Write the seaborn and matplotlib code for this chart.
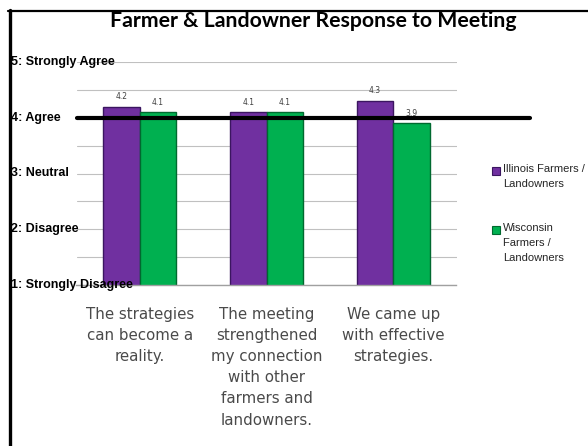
import matplotlib
matplotlib.use("Agg")
import matplotlib.pyplot as plt
import matplotlib.transforms as mtransforms
from matplotlib.lines import Line2D
from matplotlib.patches import Rectangle
import seaborn as sns
import pandas as pd

# ---- data ----
categories = [
    "The strategies\ncan become a\nreality.",
    "The meeting\nstrengthened\nmy connection\nwith other\nfarmers and\nlandowners.",
    "We came up\nwith effective\nstrategies.",
]
series_names = ["Illinois Farmers /\nLandowners", "Wisconsin\nFarmers /\nLandowners"]
illinois = [4.2, 4.1, 4.3]
wisconsin = [4.1, 4.1, 3.9]
ytick_values = [1, 2, 3, 4, 5]
ytick_labels = ["1: Strongly Disagree", "2: Disagree", "3: Neutral", "4: Agree", "5: Strongly Agree"]
agree_line = 4
title = "Farmer & Landowner Response to Meeting"

colors = ["#7030A0", "#00B050"]
edges = ["#3B1660", "#00692F"]

df = pd.DataFrame({
    "cat": categories * 2,
    "series": [series_names[0]] * 3 + [series_names[1]] * 3,
    "val": illinois + wisconsin,
})

sns.set_style("white")
fig = plt.figure(figsize=(5.88, 4.46), dpi=100)
W, H = 588, 446
ax = fig.add_axes([76.5 / W, 1 - 285 / H, 380 / W, 223 / H])

sns.barplot(data=df, x="cat", y="val", hue="series", order=categories,
            hue_order=series_names, palette=colors, width=0.577,
            saturation=1, linewidth=1, ax=ax, legend=False)

for cont, ec in zip(ax.containers, edges):
    for p in cont:
        p.set_edgecolor(ec)
    ax.bar_label(cont, fmt="%.1f", padding=4, fontsize=5.5, color="#404040")

ax.set_ylim(1, 5)
ax.set_xlim(-0.5, 2.5)
ax.set_yticks([1 + 0.5 * i for i in range(9)])
ax.set_yticklabels([])
ax.tick_params(axis="y", length=0)
ax.yaxis.grid(True, color="#C0C0C0", lw=0.8)
ax.set_axisbelow(True)
for s in ["left", "right", "top"]:
    ax.spines[s].set_visible(False)
ax.spines["bottom"].set_color("#A0A0A0")
ax.spines["bottom"].set_linewidth(1)

ax.set_xticks(range(3))
ax.set_xticklabels(categories, fontsize=10.8, color="#4A4A4A", linespacing=1.52,
                   family="DejaVu Sans", va="top")
ax.tick_params(axis="x", length=0, pad=15.5)
ax.set_xticks([-0.5, 0.5, 1.5, 2.5], minor=True)
ax.tick_params(axis="x", which="minor", length=5, color="#A0A0A0", width=1, direction="out")
ax.set_xlabel("")
ax.set_ylabel("")

# y category labels
tr = mtransforms.blended_transform_factory(fig.transFigure, ax.transData)
for v, lab in zip(ytick_values, ytick_labels):
    ax.text(11 / W, v, lab, transform=tr, ha="left", va="center", fontsize=9,
            fontweight="bold", family="Liberation Sans", color="black", clip_on=False)

# agree line
ax.axhline(agree_line, xmin=0, xmax=(530 - 76.5) / 380, color="black", lw=3,
           clip_on=False, zorder=5)

# legend (manual)
legend_tops = [171, 230]
for name, c, e, yc in zip(series_names, colors, edges, legend_tops):
    fig.add_artist(Rectangle((492 / W, 1 - (yc + 4) / H), 8 / W, 8 / H,
                             facecolor=c, edgecolor=e, lw=0.8,
                             transform=fig.transFigure))
    fig.text(503 / W, 1 - (yc - 7) / H, name, ha="left", va="top", fontsize=8,
             family="Liberation Sans", color="#262626", linespacing=1.65)

# title
fig.text(313 / W, 1 - 21 / H, title, ha="center", va="center", fontsize=15.3,
         fontweight="bold", family="Lato", color="black")

# slide border
fig.add_artist(Line2D([9.5 / W, 9.5 / W], [0, 1 - 10 / H], color="black", lw=2.4,
                      transform=fig.transFigure))
fig.add_artist(Line2D([8 / W, 1], [1 - 11 / H, 1 - 11 / H], color="black", lw=1.6,
                      transform=fig.transFigure))

fig.savefig("out.png", dpi=100)
